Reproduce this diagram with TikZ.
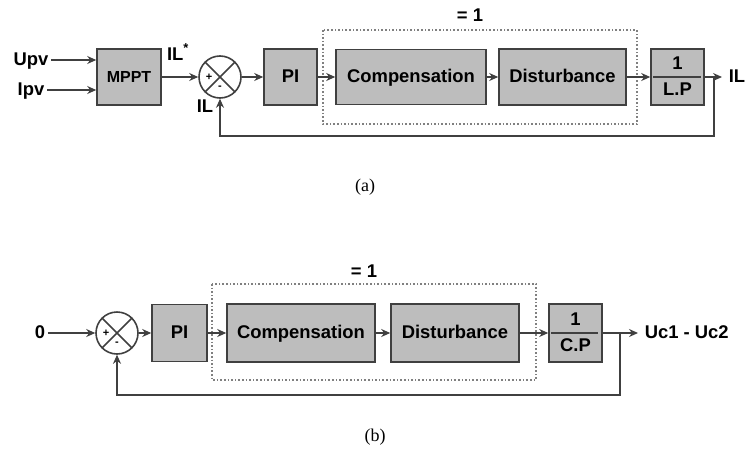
\documentclass[tikz,border=0pt]{standalone}
\usepackage{fontspec}
\setmainfont{Liberation Serif}
\setsansfont{Liberation Sans}
\usepackage{tikz}
\usetikzlibrary{positioning,arrows.meta}

\definecolor{boxgray}{gray}{0.74}
\definecolor{linegray}{gray}{0.25}

\tikzset{
  block/.style={draw=linegray, fill=boxgray, thick, inner sep=0pt,
    text height=0.72em, text depth=0.2em,
    font=\sffamily\bfseries\fontsize{9.2}{11}\selectfont},
  sumnode/.style={draw=linegray, circle, thick, minimum size=21pt, inner sep=0pt,
    path picture={\draw[linegray, thick]
      (path picture bounding box.north west) -- (path picture bounding box.south east)
      (path picture bounding box.north east) -- (path picture bounding box.south west);}},
  lbl/.style={font=\sffamily\bfseries\fontsize{9.2}{11}\selectfont, inner sep=1pt,
    text height=0.72em, text depth=0.2em},
  sgn/.style={font=\sffamily\bfseries\fontsize{5.5}{6}\selectfont, inner sep=0pt},
  groupbox/.style={draw=gray, densely dotted, thick},
  caption/.style={font=\fontsize{9}{11}\selectfont},
}

\begin{document}
\begin{tikzpicture}[x=0.5pt, y=-0.5pt, thick, >={Stealth[length=4.5pt,width=4pt]}, draw=linegray]
    \useasboundingbox (0,0) rectangle (747,460);

    % (a) current loop
    \node[lbl] (upv) at (31,60) {Upv};
    \node[lbl] (ipv) at (31,90) {Ipv};
    \node[block, minimum width=32pt, minimum height=28pt,
          font=\sffamily\bfseries\fontsize{8}{10}\selectfont] (mppt) at (129,77) {MPPT};
    \node[sumnode] (suma) at (220,77) {};
    \node[sgn, xshift=-5.5pt] at (suma.center) {+};
    \node[sgn, yshift=-5.5pt] at (suma.center) {-};
    \node[block, minimum width=26.5pt, minimum height=28pt] (pia) at (290.5,77) {PI};
    \node[block, minimum width=75pt, minimum height=27.5pt] (compa) at (411,77) {Compensation};
    \node[block, minimum width=63.5pt, minimum height=28pt] (dista) at (562.5,77) {Disturbance};
    \node[block, minimum width=26.5pt, minimum height=28pt] (lp) at (677.5,77) {};
    \node[lbl, yshift=6.5pt] at (lp.center) {1};
    \node[lbl, yshift=-6.5pt] at (lp.center) {L.P};
    \draw (653,77) -- (701,77);

    \draw[groupbox] (323,30) rectangle (637,124);
    \node[lbl] (onea) at (470,16) {= 1};

    \draw[->] (upv.east) -- (mppt.west |- upv.east);
    \draw[->] (ipv.east) -- (mppt.west |- ipv.east);
    \draw[->] (mppt) -- (suma) node[lbl, pos=0.45, above=5pt] {IL\textsuperscript{*}};
    \draw[->] (suma) -- (pia);
    \draw[->] (pia) -- (compa);
    \draw[->] (compa) -- (dista);
    \draw[->] (dista) -- (lp);
    \coordinate (outa) at (722,77);
    \draw[->] (lp) -- (outa);
    \node[lbl, anchor=west] at (726,77) {IL};
    \coordinate (fba) at (714,77);
    \draw[->] (fba) -- ++(0,59) -| (suma.south);
    \node[lbl] at (205,107) {IL};

    \node[caption] at (365,187) {(a)};

    % (b) voltage balance loop
    \node[lbl] (zero) at (40,333) {0};
    \node[sumnode] (sumb) at (117,333) {};
    \node[sgn, xshift=-5.5pt] at (sumb.center) {+};
    \node[sgn, yshift=-5.5pt] at (sumb.center) {-};
    \node[block, minimum width=27.5pt, minimum height=28.5pt] (pib) at (179.5,333) {PI};
    \node[block, minimum width=74pt, minimum height=29pt] (compb) at (301,333) {Compensation};
    \node[block, minimum width=64pt, minimum height=29pt] (distb) at (455,333) {Disturbance};
    \node[block, minimum width=26.5pt, minimum height=29pt] (cp) at (575.5,333) {};
    \node[lbl, yshift=6.5pt] at (cp.center) {1};
    \node[lbl, yshift=-6.5pt] at (cp.center) {C.P};
    \draw (551,333) -- (598,333);

    \draw[groupbox] (212,284) rectangle (536,380);
    \node[lbl] (oneb) at (364,272) {= 1};

    \draw[->] (zero.east) -- (sumb.west);
    \draw[->] (sumb) -- (pib);
    \draw[->] (pib) -- (compb);
    \draw[->] (compb) -- (distb);
    \draw[->] (distb) -- (cp);
    \coordinate (outb) at (638,333);
    \draw[->] (cp) -- (outb);
    \node[lbl, anchor=west] at (642,333) {Uc1 - Uc2};
    \coordinate (fbb) at (620,333);
    \draw[->] (fbb) -- ++(0,62) -| (sumb.south);

    \node[caption] at (375,437) {(b)};
\end{tikzpicture}
\end{document}
